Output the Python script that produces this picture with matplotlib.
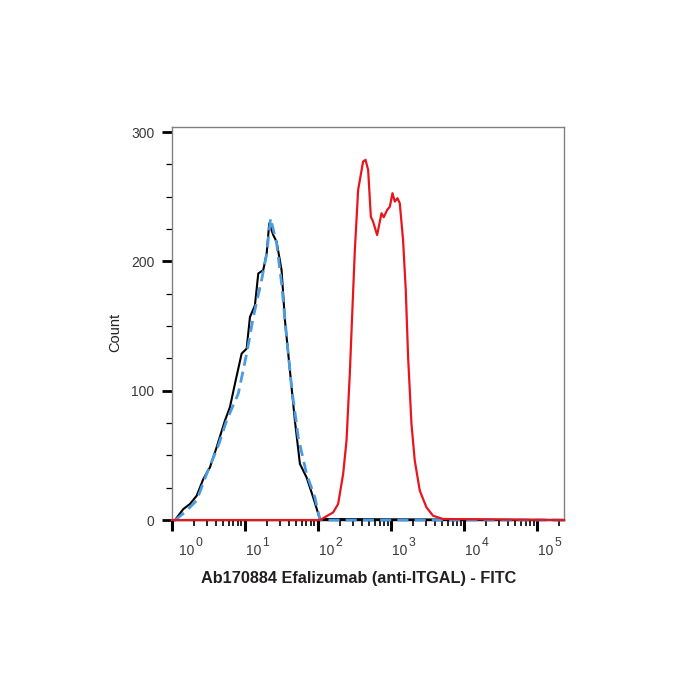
import numpy as np
import matplotlib
matplotlib.use("Agg")
import matplotlib.pyplot as plt
import matplotlib.transforms as mtransforms

plt.rcParams['font.family'] = ['Liberation Sans', 'DejaVu Sans']

# ---- data (x given as log10 of FITC intensity) ----
black_log = [0.045, 0.159, 0.25, 0.342, 0.433, 0.524, 0.615, 0.729, 0.797, 0.866, 0.957,
             1.026, 1.071, 1.139, 1.185, 1.253, 1.30, 1.335, 1.39, 1.436, 1.504, 1.55,
             1.618, 1.686, 1.755, 1.846, 1.937, 2.028, 5.37]
black_cnt = [0, 8.5, 12.4, 18.8, 31.8, 40.8, 56.3, 77, 87.3, 105.5, 128.7,
             132.6, 157, 166, 190.7, 193.3, 206.3, 229.5, 220.4, 215.2, 193.3, 154.5,
             115.8, 77, 43.4, 33, 17.5, 0.8, 0]

blue_log = [0.05, 0.2, 0.342, 0.478, 0.638, 0.752, 0.911, 1.026, 1.117, 1.23, 1.30, 1.354,
            1.436, 1.504, 1.573, 1.641, 1.732, 1.846, 1.96, 2.03, 5.37]
blue_cnt = [0, 7, 15.2, 35.6, 57.6, 77, 97.7, 128.7, 157, 185.5, 206, 233.4,
            214, 183, 141.6, 102.8, 64, 35.7, 17.5, 0, 0]

red_log = [0.0, 2.03, 2.21, 2.278, 2.347, 2.393, 2.438, 2.475, 2.507, 2.552, 2.62, 2.653,
           2.689, 2.726, 2.757, 2.812, 2.872, 2.903, 2.949, 2.986, 3.022, 3.054, 3.091,
           3.122, 3.167, 3.204, 3.236, 3.282, 3.327, 3.396, 3.487, 3.578, 3.715, 5.37]
red_cnt = [0, 0, 5.9, 12.4, 35.7, 61.5, 113.2, 164.9, 208.8, 255.3, 277.3, 278.6,
           270.8, 234.6, 230.7, 220.4, 237.3, 234.2, 239.8, 242.4, 252.8, 246.3, 248.9,
           245, 216.6, 177.8, 126, 74.4, 46, 22.7, 9.8, 3.3, 0.8, 0]

x_tick_exponents = ['0', '1', '2', '3', '4', '5']
y_ticks = [0, 100, 200, 300]
x_label = 'Ab170884 Efalizumab (anti-ITGAL) - FITC'
y_label = 'Count'

# ---- figure ----
fig = plt.figure(figsize=(7, 7), dpi=100)
ax = fig.add_axes([0.2453, 0.2571, 0.5604, 0.5615])
ax.set_xscale('log')
ax.set_xlim(1, 10 ** 5.37)
ax.set_ylim(0, 304)

ax.plot(10 ** np.array(black_log), black_cnt, color='black', lw=1.5, clip_on=False, zorder=3)
ax.plot(10 ** np.array(blue_log), blue_cnt, color='#4a9be0', lw=2.0, dashes=(4, 2.2),
        clip_on=False, zorder=4)
ax.plot(10 ** np.array(red_log), red_cnt, color='#e8161c', lw=1.6, clip_on=False, zorder=5)

# spines
for s in ['left', 'top', 'right']:
    ax.spines[s].set_color('#808080')
    ax.spines[s].set_linewidth(1.0)
ax.spines['bottom'].set_color('black')
ax.spines['bottom'].set_linewidth(1.0)

# y ticks
ax.set_yticks(y_ticks)
ax.set_yticklabels([str(v) for v in y_ticks])
ax.set_yticks(np.arange(25, 304, 25), minor=True)
ax.tick_params(axis='y', which='major', length=7.5, width=2.0, color='black',
               labelsize=10, labelcolor='#3a3a3a', pad=5)
ax.tick_params(axis='y', which='minor', length=4.3, width=0.9, color='black')

# x ticks
majors = [10.0 ** int(e) for e in x_tick_exponents]
ax.set_xticks(majors)
ax.set_xticklabels([''] * len(majors))
minors = [m * k for m in majors for k in range(2, 10) if m * k < 10 ** 5.37]
ax.set_xticks(minors, minor=True)
ax.set_xticklabels([''] * len(minors), minor=True)
ax.tick_params(axis='x', which='major', length=8, width=2.2, color='black')
ax.tick_params(axis='x', which='minor', length=4.3, width=1.2, color='black')

# x tick labels (10 with superscript)
extra = {'0': 6.0}
for e in x_tick_exponents:
    off = mtransforms.ScaledTranslation((1.5 + extra.get(e, 0)) / 100, -35 / 100, fig.dpi_scale_trans)
    tr = ax.get_xaxis_transform() + off
    base = ax.text(10.0 ** int(e), 0, '10', transform=tr, ha='left', va='baseline',
                   fontsize=10, color='#3a3a3a')
    ax.annotate(e, xy=(1, 0), xycoords=base, xytext=(0.6, 6.3), textcoords='offset points',
                ha='left', va='bottom', fontsize=8.8, color='#3a3a3a')

ax.text(-0.145, 0.478, y_label, transform=ax.transAxes, rotation=90, ha='center', va='center',
        fontsize=10.5, color='#222222')
fig.text(0.513, 0.174, x_label, ha='center', va='center', fontsize=11.7,
         fontweight='bold', color='#231f20')

fig.savefig('out.png', dpi=100)
